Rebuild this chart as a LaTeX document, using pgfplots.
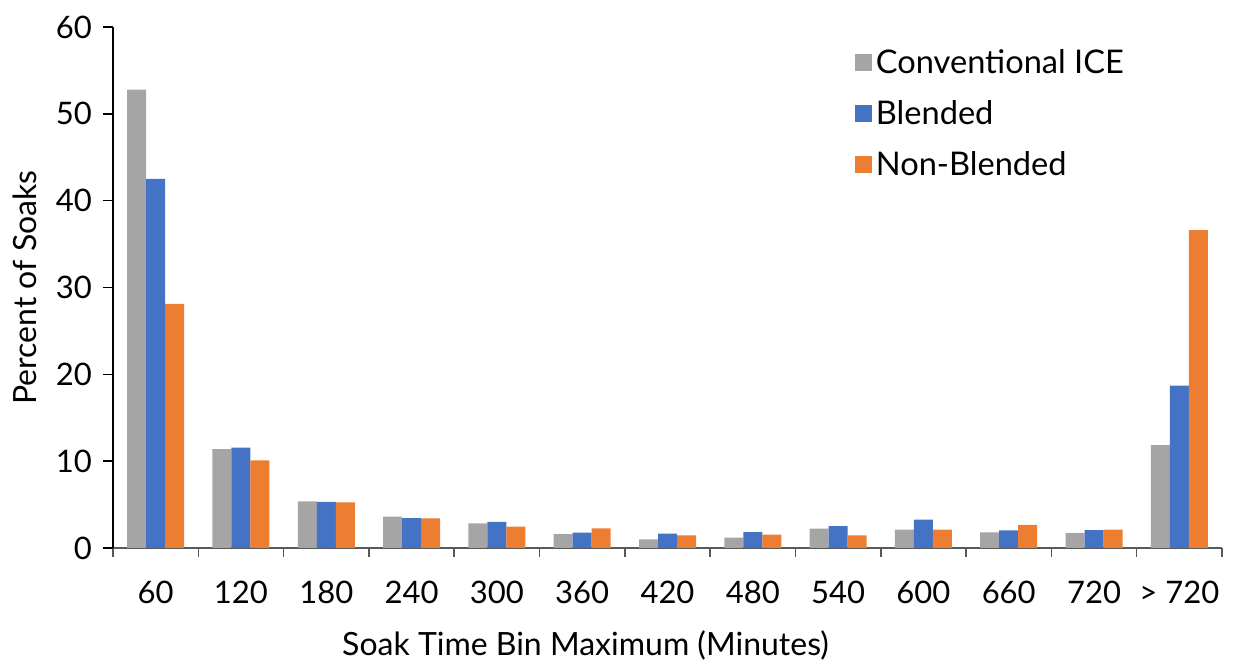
\documentclass[border=0pt]{standalone}
\usepackage{fontspec}
\setmainfont{Lato}
\usepackage{pgfplots}
\pgfplotsset{compat=1.18}
\definecolor{cgray}{HTML}{A5A5A5}
\definecolor{cblue}{HTML}{4472C4}
\definecolor{corange}{HTML}{ED7D31}
\begin{document}
\begin{tikzpicture}
\useasboundingbox (-56.5pt,-57pt) rectangle (560pt,274pt);
\begin{axis}[
 at={(0pt,0pt)}, anchor=south west,
 scale only axis, width=554.5pt, height=260.5pt,
 ybar=0pt, bar width=9.5pt,
 xmin=-0.5, xmax=12.5, ymin=0, ymax=60,
 xtick={0,...,12},
 xticklabels={60,120,180,240,300,360,420,480,540,600,660,720,{> 720}},
 major x tick style={draw=none},
 minor xtick={-0.5,0.5,...,12.5},
 minor x tick style={draw=black!65, line width=0.8pt},
 minor tick length=4.5pt,
 ytick={0,10,...,60},
 major tick length=5pt,
 tick align=outside,
 axis x line*=bottom, axis y line*=left,
 x axis line style={-, draw=black!65, line width=0.8pt},
 y axis line style={-, draw=black, line width=0.8pt},
 y tick style={draw=black, line width=0.8pt},
 /pgf/number format/assume math mode=true,
 tick label style={font=\fontsize{15.5}{18}\selectfont},
 xticklabel style={yshift=-8pt},
 yticklabel style={xshift=-2pt},
 xlabel={Soak Time Bin Maximum (Minutes)},
 ylabel={Percent of Soaks},
 label style={font=\fontsize{16}{19}\selectfont},
 xlabel style={yshift=-6.8pt, xshift=-41pt},
 ylabel style={yshift=2.5pt},
 legend style={draw=none, at={(rel axis cs:0.6686,0.966)}, anchor=north west,
   font=\fontsize{16.3}{19}\selectfont, row sep=8pt, inner sep=0pt},
 legend cell align=left,
 legend image code/.code={\fill[#1] (-2pt,-4.25pt) rectangle (6.5pt,4.25pt);},
 clip=false,
]
\addplot[fill=cgray, draw=none] coordinates {
(0,52.8) (1,11.4) (2,5.37) (3,3.61) (4,2.84) (5,1.61) (6,1.0) (7,1.19) (8,2.23) (9,2.11) (10,1.80) (11,1.73) (12,11.86)};
\addplot[fill=cblue, draw=none] coordinates {
(0,42.5) (1,11.55) (2,5.30) (3,3.45) (4,3.01) (5,1.77) (6,1.65) (7,1.84) (8,2.53) (9,3.26) (10,2.03) (11,2.07) (12,18.7)};
\addplot[fill=corange, draw=none] coordinates {
(0,28.1) (1,10.1) (2,5.26) (3,3.42) (4,2.46) (5,2.26) (6,1.46) (7,1.54) (8,1.46) (9,2.11) (10,2.65) (11,2.11) (12,36.6)};
\legend{Conventional ICE, Blended, Non-Blended}
\end{axis}
\end{tikzpicture}
\end{document}
